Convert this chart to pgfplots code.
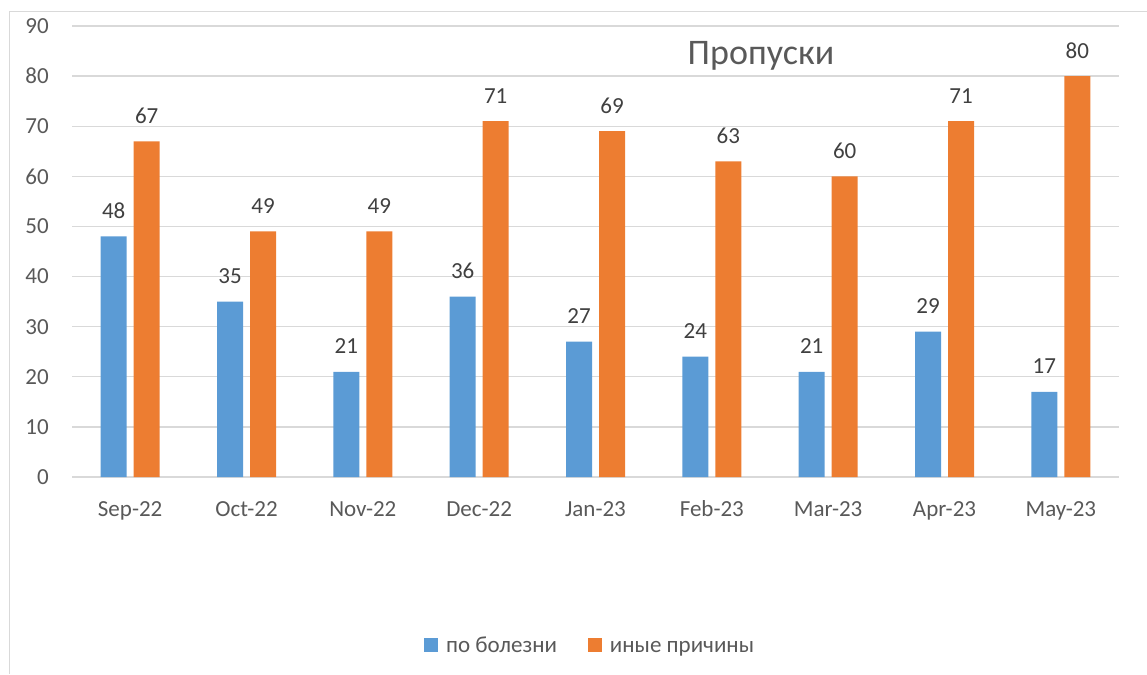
\documentclass[border=0pt]{standalone}
\usepackage{fontspec}
\setmainfont{Carlito}
\usepackage{pgfplots}
\pgfplotsset{compat=1.18}
\definecolor{cblue}{HTML}{5B9BD5}
\definecolor{corange}{HTML}{ED7D31}
\definecolor{gridc}{HTML}{D9D9D9}
\definecolor{txt}{HTML}{595959}
\definecolor{lbl}{HTML}{404040}
\begin{document}
\begin{tikzpicture}[x=1pt,y=1pt]
\useasboundingbox (0,0) rectangle (1147,674);
\draw[gridc, line width=1.6pt] (9.5,0) -- (9.5,662.5) -- (1147,662.5);
\begin{axis}[
  at={(72pt,197pt)}, anchor=south west,
  scale only axis, width=1047pt, height=451pt,
  ymin=0, ymax=90, ytick={0,10,...,90},
  xmin=-0.5, xmax=8.5, xtick={0,...,8},
  xticklabels={Sep-22,Oct-22,Nov-22,Dec-22,Jan-23,Feb-23,Mar-23,Apr-23,May-23},
  ybar=7pt, bar width=26pt,
  axis line style={draw=none},
  ymajorgrids, grid style={gridc, line width=1.4pt},
  major tick length=0pt, tick style={draw=none},
  /pgf/number format/assume math mode=true,
  tick label style={font=\fontsize{23}{27}\selectfont, text=txt},
  xticklabel style={anchor=base, inner sep=0pt, yshift=-39pt},
  yticklabel style={anchor=east, inner sep=0pt, xshift=-23pt},
  nodes near coords,
  every node near coord/.append style={anchor=base, inner sep=0pt, yshift=18pt, font=\fontsize{23}{27}\selectfont, text=lbl},
  legend columns=2,
  legend style={at={(0.4948,-0.379)}, anchor=center, draw=none, fill=none,
    font=\fontsize{23}{27}\selectfont, text=txt,
    nodes={text height=15pt, text depth=5pt},
    /tikz/every odd column/.append style={column sep=6pt},
    /tikz/every even column/.append style={column sep=29pt}},
  legend image code/.code={\fill[#1] (0pt,-4pt) rectangle (14pt,10pt);},
]
\addplot[draw=none, fill=cblue] coordinates {(0,48) (1,35) (2,21) (3,36) (4,27) (5,24) (6,21) (7,29) (8,17)};
\addplot[draw=none, fill=corange] coordinates {(0,67) (1,49) (2,49) (3,71) (4,69) (5,63) (6,60) (7,71) (8,80)};
\legend{по болезни, иные причины}
\end{axis}
\node[anchor=base, text=txt, font=\fontsize{36}{42}\selectfont] at (761,609) {Пропуски};
\end{tikzpicture}
\end{document}
